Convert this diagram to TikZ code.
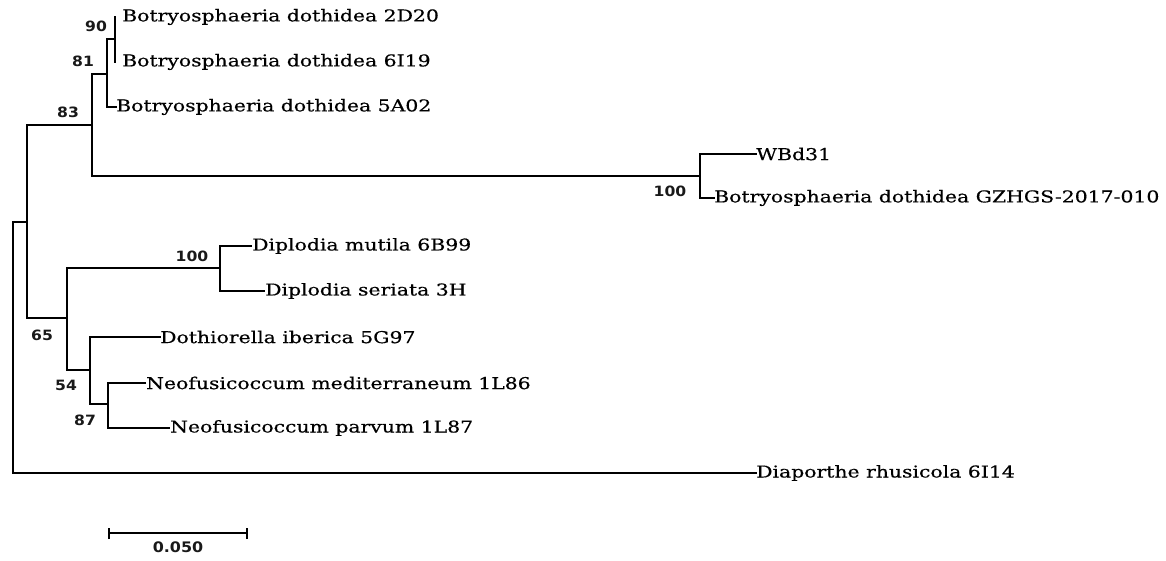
\documentclass[tikz,border=0pt]{standalone}
\usepackage{fontspec}
\setmainfont{DejaVu Serif}
\newfontfamily\tipfont{DejaVu Serif}[FakeStretch=1.25, FakeBold=0.5]
\newfontfamily\numfont{DejaVu Sans Bold}[FakeStretch=1.1]
\begin{document}
\begin{tikzpicture}[x=1pt,y=-1pt,
  br/.style={line width=1.5pt, line cap=rect},
  thk/.style={line width=2.9pt, line cap=rect},
  tip/.style={anchor=west, inner sep=0pt, font=\tipfont\fontsize{16.3}{17}\selectfont},
  bs/.style={inner sep=0pt, font=\numfont\fontsize{14.2}{15}\selectfont, text=black!90}]
\useasboundingbox (0,0) rectangle (1166,561);
% internal node coordinates
\coordinate (root) at (13,222);
\coordinate (n1) at (27,222);
\coordinate (n83) at (92,125);
\coordinate (n81) at (107,74);
\coordinate (n90) at (115,39);
\coordinate (nW) at (700,176);
\coordinate (n65) at (67,318);
\coordinate (nD) at (220,268);
\coordinate (n54) at (90,370);
\coordinate (n87) at (108,404);
% tip labels
\node[tip] (t1) at (122,17) {Botryosphaeria dothidea 2D20};
\node[tip] (t2) at (122,62) {Botryosphaeria dothidea 6I19};
\node[tip] (t3) at (116,107) {Botryosphaeria dothidea 5A02};
\node[tip] (t4) at (756,154) {WBd31};
\node[tip] (t5) at (714,198) {Botryosphaeria dothidea GZHGS-2017-010};
\node[tip] (t6) at (252,246) {Diplodia mutila 6B99};
\node[tip] (t7) at (265,291) {Diplodia seriata 3H};
\node[tip] (t8) at (160,337) {Dothiorella iberica 5G97};
\node[tip] (t9) at (146,383) {Neofusicoccum mediterraneum 1L86};
\node[tip] (t10) at (170,428) {Neofusicoccum parvum 1L87};
\node[tip] (t11) at (756,473) {Diaporthe rhusicola 6I14};
% branches
\draw[br] (root |- t11) -- (root) -- (n1);
\draw[thk] (n83) -| (n1) -- (n1 |- n65);
\draw[line width=1.8pt] (n1 |- n65) -- (n65);
\draw[thk] (n83 |- nW) -- (nW);
\draw[thk] (n81) -| (n83) -- (n83 |- nW);
\draw[br] (n81 |- n90) -- (n90);
\draw[br] (n81 |- n90) -- (n81 |- t3) -- (t3.west);
\draw[br] (n90 |- t1) -- (n90 |- t2);
\draw[br] (nW |- t4) -- (nW |- t5) -- (t5.west);
\draw[br] (nW |- t4) -- (t4.west);
\draw[br] (root |- t11) -- (t11.west);
\draw[br] (nD) -| (n65) |- (n54);
\draw[line width=2.2pt] (t6.west) -| (nD) |- (t7.west);
\draw[br] (t8.west) -| (n54) |- (n87);
\draw[line width=1.9pt] (t9.west) -| (n87) |- (t10.west);
% bootstrap labels
\node[bs] (b90) at (96,26) {90};
\node[bs] (b81) at (83,61) {81};
\node[bs] (b83) at (68,112) {83};
\node[bs] (b100a) at (670,191) {100};
\node[bs] (b100b) at (192,256) {100};
\node[bs] (b65) at (42,335) {65};
\node[bs] (b54) at (66,385) {54};
\node[bs] (b87) at (85,420) {87};
% scale bar
\coordinate (s1) at (109,533);
\coordinate (s2) at (247,533);
\draw[line width=1.9pt] (s1) -- (s2);
\draw[line width=1.9pt] ([yshift=-6]s1) -- ([yshift=5]s1);
\draw[line width=2.5pt] ([yshift=-6]s2) -- ([yshift=5]s2);
\node[bs, font=\numfont\fontsize{14.5}{15}\selectfont] (sl) at (178,547) {0.050};
\end{tikzpicture}
\end{document}
